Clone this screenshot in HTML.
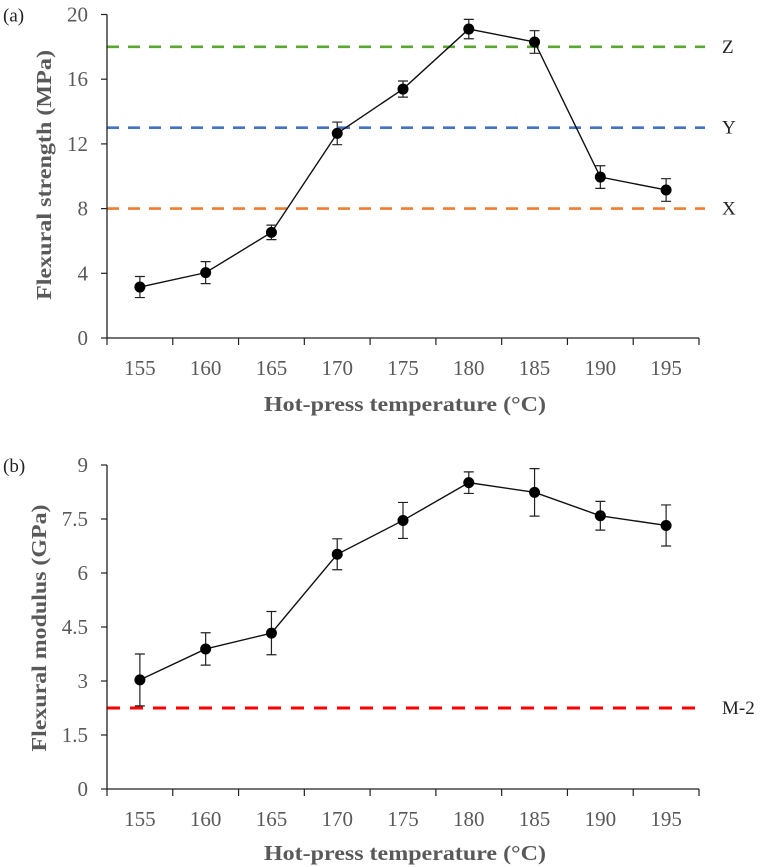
<!DOCTYPE html>
<html><head><meta charset="utf-8">
<style>
html,body{margin:0;padding:0;background:#fff;}
svg{display:block;font-family:"Liberation Serif",serif;}
</style></head>
<body>
<svg id="chart" width="762" height="867" viewBox="0 0 762 867" xmlns="http://www.w3.org/2000/svg"></svg>
<script>
const categories = ["155","160","165","170","175","180","185","190","195"];
const strengthValues = [3.15, 4.04, 6.53, 12.65, 15.39, 19.1, 18.3, 9.95, 9.15];
const strengthErrors = [0.65, 0.68, 0.45, 0.7, 0.5, 0.6, 0.7, 0.7, 0.7];
const strengthTicks = [0, 4, 8, 12, 16, 20];
const strengthRefValues = [18, 13, 8];
const strengthRefLabels = ["Z", "Y", "X"];
const modulusValues = [3.03, 3.89, 4.33, 6.52, 7.46, 8.51, 8.24, 7.59, 7.32];
const modulusErrors = [0.72, 0.45, 0.6, 0.43, 0.5, 0.3, 0.66, 0.4, 0.57];
const modulusTicks = [0, 1.5, 3, 4.5, 6, 7.5, 9];
const modulusTickLabels = ["0", "1.5", "3", "4.5", "6", "7.5", "9"];
const modulusRefValues = [2.25];
const modulusRefLabels = ["M-2"];

const NS = "http://www.w3.org/2000/svg";
const svg = document.getElementById("chart");
function mk(tag, attrs, parent, text){
  const e = document.createElementNS(NS, tag);
  for (const k in attrs) e.setAttribute(k, attrs[k]);
  if (text !== undefined) e.textContent = text;
  (parent || svg).appendChild(e);
  return e;
}

function panel(opt){
  const g = mk("g", {});
  
  
  const x0 = 107, x1 = 699, y0 = opt.y0, yTop = opt.yTop;
  const band = (x1 - x0) / categories.length;
  const xs = i => x0 + band * (i + 0.5);
  const ys = v => y0 - (v / opt.max) * (y0 - yTop);

  opt.refs.forEach((v, i) => {
    const l = mk("line", {x1: x0, x2: 705, y1: ys(v), y2: ys(v), stroke: opt.refColors[i], "stroke-width": opt.refWidth, "stroke-dasharray": opt.dash}, g);
    
    
    const t = mk("text", {x: 722, y: ys(v) + 6, "font-size": 19, fill: "#222"}, g, opt.refLabels[i]);
    
    
  });

  const ya = mk("line", {x1: x0, x2: x0, y1: yTop, y2: y0, stroke: "#222", "stroke-width": 1.3}, g);
  
  
  const xa = mk("line", {x1: x0, x2: x1, y1: y0, y2: y0, stroke: "#222", "stroke-width": 1.3}, g);
  
  

  opt.ticks.forEach((v, i) => {
    const tk = mk("line", {x1: x0 - 6, x2: x0, y1: ys(v), y2: ys(v), stroke: "#222", "stroke-width": 1.2}, g);
    
    
    const tl = mk("text", {x: 88, y: ys(v) + 7, "text-anchor": "end", "font-size": 21, fill: "#595959"}, g, opt.tickLabels[i]);
    
    
  });
  for (let i = 0; i <= categories.length; i++){
    const tk = mk("line", {x1: x0 + band * i, x2: x0 + band * i, y1: y0, y2: y0 + 7, stroke: "#222", "stroke-width": 1.2}, g);
    
    
  }
  categories.forEach((c, i) => {
    const tl = mk("text", {x: xs(i), y: y0 + 37, "text-anchor": "middle", "font-size": 21, fill: "#595959"}, g, c);
    
    
  });

  const pts = opt.values.map((v, i) => xs(i) + "," + ys(v)).join(" ");
  const pl = mk("polyline", {points: pts, fill: "none", stroke: "#111", "stroke-width": 1.4}, g);
  
  

  opt.values.forEach((v, i) => {
    const x = xs(i), e = opt.errors[i];
    const eb = mk("path", {d: `M${x},${ys(v+e)}V${ys(v-e)}M${x-5},${ys(v+e)}H${x+5}M${x-5},${ys(v-e)}H${x+5}`, stroke: "#222", "stroke-width": 1.2, fill: "none"}, g);
    
    
    const c = mk("circle", {cx: x, cy: ys(v), r: 5.5, fill: "#000"}, g);
    
    
  });

  const xt = mk("text", {x: 405, y: opt.xTitleY, "text-anchor": "middle", "font-size": 21, "font-weight": "bold", fill: "#595959", textLength: 282, lengthAdjust: "spacingAndGlyphs"}, g, "Hot-press temperature (\u00B0C)");
  
  
  const yt = mk("text", {x: 0, y: 0, transform: `translate(${opt.yTitleX},${opt.yTitleY}) rotate(-90)`, "text-anchor": "middle", "font-size": 21, "font-weight": "bold", fill: "#595959", textLength: opt.yTitleLen, lengthAdjust: "spacingAndGlyphs"}, g, opt.yTitle);
  
  
  const pn = mk("text", {x: 3, y: opt.yTop + 7, "font-size": 19, fill: "#222"}, g, opt.panelLabel);
  
  
}

panel({name: "flexural-strength-chart", y0: 338, yTop: 14.5, max: 20, ticks: strengthTicks, tickLabels: strengthTicks.map(String),
  values: strengthValues, errors: strengthErrors, refs: strengthRefValues, refLabels: strengthRefLabels,
  refColors: ["#5aa832", "#4472c4", "#ed7d31"], refWidth: 2.6, dash: "12,9",
  xTitleY: 411, yTitle: "Flexural strength (MPa)", yTitleX: 51, yTitleY: 175, yTitleLen: 250, panelLabel: "(a)"});
panel({name: "flexural-modulus-chart", y0: 789, yTop: 465, max: 9, ticks: modulusTicks, tickLabels: modulusTickLabels,
  values: modulusValues, errors: modulusErrors, refs: modulusRefValues, refLabels: modulusRefLabels,
  refColors: ["#ff0000"], refWidth: 3, dash: "13,10",
  xTitleY: 860, yTitle: "Flexural modulus (GPa)", yTitleX: 46, yTitleY: 628, yTitleLen: 247, panelLabel: "(b)"});
</script>
</body></html>
